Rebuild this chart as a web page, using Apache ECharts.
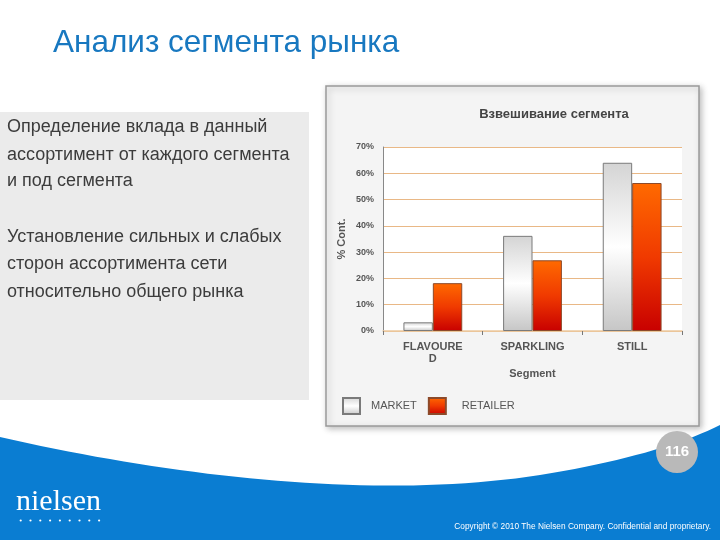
<!DOCTYPE html>
<html><head><meta charset="utf-8">
<script src="https://cdn.jsdelivr.net/npm/echarts@6/dist/echarts.min.js"></script>
<style>html,body{margin:0;padding:0;background:#fff}#c{width:720px;height:540px}</style>
</head><body><div id="c"></div>
<script>
const categories = ['FLAVOURED', 'SPARKLING', 'STILL'];
const marketValues = [3.3, 36.2, 64.0];
const retailerValues = [18.2, 26.9, 56.3];
const yTicks = [0, 10, 20, 30, 40, 50, 60, 70];
const seriesNames = ['MARKET', 'RETAILER'];

const chart = echarts.init(document.getElementById('c'));
const txt = (x, y, s, style) => ({type: 'text', left: x, top: y, style: Object.assign({text: s, fill: '#3c3c3c', font: '18px Arial, "Liberation Sans"'}, style)});
const dots = [];
for (let i = 0; i < 9; i++) dots.push({type: 'circle', shape: {cx: 20.7 + i * 9.8, cy: 520.5, r: 1.1}, style: {fill: '#fff'}});

// decorative wave outline (cubic segments sampled into a polygon)
function cubic(p0, p1, p2, p3, n, out) {
  for (let i = 0; i <= n; i++) {
    const t = i / n, u = 1 - t;
    out.push([
      u*u*u*p0[0] + 3*u*u*t*p1[0] + 3*u*t*t*p2[0] + t*t*t*p3[0],
      u*u*u*p0[1] + 3*u*u*t*p1[1] + 3*u*t*t*p2[1] + t*t*t*p3[1]
    ]);
  }
}
const wave = [];
cubic([0, 437], [180, 478], [380, 500], [540, 475], 40, wave);
cubic([540, 475], [620, 462], [680, 445], [720, 425], 20, wave);
wave.push([720, 540], [0, 540]);

chart.setOption({
  backgroundColor: '#fff',
  animation: false,
  graphic: [
    {type: 'rect', shape: {x: 0, y: 112, width: 309, height: 288}, style: {fill: '#ebebeb'}, z: -10},
    {type: 'polygon', shape: {points: wave}, style: {fill: '#0a7dd2'}, z: -10},
    {type: 'rect', shape: {x: 326, y: 86, width: 373, height: 340}, style: {fill: '#f4f4f4', stroke: '#9a9a9a', lineWidth: 1.5, shadowBlur: 6, shadowColor: 'rgba(0,0,0,0.25)', shadowOffsetX: 2, shadowOffsetY: 2}, z: -9},
    txt(53, 27, 'Анализ сегмента рынка', {fill: '#1878c0', font: '31.5px Arial, "Liberation Sans"'}),
    txt(7, 118, 'Определение вклада в данный', {}),
    txt(7, 146, 'ассортимент от каждого сегмента', {}),
    txt(7, 172, 'и под сегмента', {}),
    txt(7, 228, 'Установление сильных и слабых', {}),
    txt(7, 255, 'сторон ассортимента сети', {}),
    txt(7, 283, 'относительно общего рынка', {}),
    {type: 'circle', shape: {cx: 677, cy: 452, r: 21}, style: {fill: '#b9b9b9'}},
    {type: 'text', x: 677, y: 452, style: {text: '116', fill: '#fff', font: 'bold 15px Arial, "Liberation Sans"', align: 'center', verticalAlign: 'middle'}},
    {type: 'text', x: 16, y: 502, style: {text: 'nielsen', fill: '#fff', font: '30px "Liberation Serif", "DejaVu Serif", serif', verticalAlign: 'middle'}},
    ...dots,
    {type: 'text', x: 711, y: 527, style: {text: 'Copyright © 2010 The Nielsen Company. Confidential and proprietary.', fill: '#fff', font: '8.3px Arial, "Liberation Sans"', align: 'right', verticalAlign: 'middle'}}
  ],
  title: {
    text: 'Взвешивание сегмента', left: 549, top: 103, textAlign: 'center',
    textStyle: {fontSize: 13, fontWeight: 'bold', color: '#444', fontFamily: 'Arial, "Liberation Sans"'}
  },
  legend: {
    left: 342, top: 397, padding: 0, itemWidth: 17, itemHeight: 16, itemGap: 11, icon: 'rect',
    data: [
      {name: seriesNames[0], textStyle: {padding: [0, 0, 7, 6]}},
      {name: seriesNames[1], textStyle: {padding: [0, 0, 7, 11]}}
    ],
    textStyle: {fontSize: 11, color: '#555', fontFamily: 'Arial, "Liberation Sans"'},
    selectedMode: false
  },
  grid: {left: 383, right: 38, top: 147, bottom: 209, show: true, backgroundColor: '#fff', borderWidth: 0},
  xAxis: {
    type: 'category', data: categories,
    name: 'Segment', nameLocation: 'middle', nameGap: 37,
    nameTextStyle: {fontSize: 11, fontWeight: 'bold', color: '#555', fontFamily: 'Arial, "Liberation Sans"'},
    axisLine: {lineStyle: {color: '#ecc9a0', width: 1.5}},
    axisTick: {show: true, length: 4, lineStyle: {color: '#777'}},
    axisLabel: {
      fontSize: 11, fontWeight: 'bold', color: '#555', margin: 10, lineHeight: 12,
      fontFamily: 'Arial, "Liberation Sans"',
      formatter: v => v === 'FLAVOURED' ? 'FLAVOURE\nD' : v
    }
  },
  yAxis: {
    type: 'value', min: yTicks[0], max: yTicks[yTicks.length - 1], interval: 10,
    name: '% Cont.', nameLocation: 'middle', nameGap: 36, nameRotate: 90,
    nameTextStyle: {fontSize: 11, fontWeight: 'bold', color: '#555', fontFamily: 'Arial, "Liberation Sans"'},
    axisLine: {show: true, lineStyle: {color: '#888'}},
    axisTick: {show: false},
    axisLabel: {formatter: '{value}%', fontSize: 9, fontWeight: 'bold', color: '#555', margin: 9, fontFamily: 'Arial, "Liberation Sans"'},
    splitLine: {lineStyle: {color: '#e9b886', width: 1}}
  },
  series: [
    {
      name: seriesNames[0], type: 'bar', data: marketValues, barGap: '0%', barCategoryGap: '41%',
      itemStyle: {
        color: new echarts.graphic.LinearGradient(0, 0, 0, 1, [
          {offset: 0, color: '#d4d4d4'}, {offset: 0.5, color: '#ffffff'}, {offset: 1, color: '#c6c6c6'}
        ]),
        borderColor: '#7a7a7a', borderWidth: 1
      }
    },
    {
      name: seriesNames[1], type: 'bar', data: retailerValues,
      itemStyle: {
        color: new echarts.graphic.LinearGradient(0, 0, 0, 1, [
          {offset: 0, color: '#ff6a00'}, {offset: 0.5, color: '#f03a00'}, {offset: 1, color: '#c80000'}
        ]),
        borderColor: '#8c4a2a', borderWidth: 1
      }
    }
  ]
});
</script></body></html>
